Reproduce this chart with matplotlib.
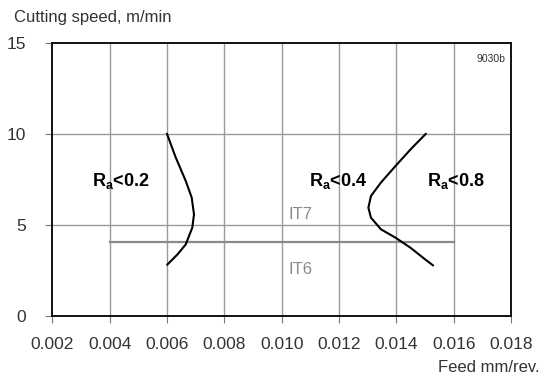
import matplotlib
matplotlib.use("Agg")
import matplotlib.pyplot as plt

plt.rcParams['font.family'] = ['Liberation Sans', 'DejaVu Sans']
plt.rcParams['mathtext.fontset'] = 'custom'
plt.rcParams['mathtext.rm'] = 'Liberation Sans'
plt.rcParams['mathtext.bf'] = 'Liberation Sans:bold'

# Ra < 0.2 boundary curve
feed_02 = [0.00600, 0.00630, 0.00665, 0.00686, 0.00694, 0.00688, 0.00665, 0.00636, 0.00601]
speed_02 = [10.0, 8.72, 7.43, 6.51, 5.59, 4.86, 3.94, 3.39, 2.84]

# Ra < 0.4 / 0.8 boundary curve
feed_04 = [0.01502, 0.01450, 0.01397, 0.01346, 0.01311, 0.01302, 0.01311,
           0.01346, 0.01397, 0.01449, 0.01501, 0.01527]
speed_04 = [10.0, 9.17, 8.25, 7.34, 6.60, 5.96, 5.41, 4.77, 4.31, 3.76, 3.11, 2.80]

# IT7 / IT6 separation line
it_feed = [0.004, 0.016]
it_speed = [4.09, 4.09]

x_ticks = [0.002, 0.004, 0.006, 0.008, 0.010, 0.012, 0.014, 0.016, 0.018]
y_ticks = [0, 5, 10, 15]

fig = plt.figure(figsize=(5.45, 3.78), dpi=100)
ax = fig.add_axes([0.096, 0.163, 0.842, 0.724])

ax.set_xlim(0.002, 0.018)
ax.set_ylim(0, 15)
ax.set_xticks(x_ticks)
ax.set_xticklabels(['%.3f' % t for t in x_ticks])
ax.set_yticks(y_ticks)

# grid
for t in x_ticks[1:-1]:
    ax.axvline(t, color='#9a9a9a', lw=1.0, zorder=1)
for t in [5, 10]:
    ax.axhline(t, color='#9a9a9a', lw=1.0, zorder=1)

ax.plot(it_feed, it_speed, color='#8a8a8a', lw=1.6, zorder=2)
ax.plot(feed_02, speed_02, color='black', lw=1.5, zorder=3)
ax.plot(feed_04, speed_04, color='black', lw=1.5, zorder=3)

for s in ax.spines.values():
    s.set_linewidth(1.4)
    s.set_color('#111111')

ax.tick_params(axis='both', direction='out', length=5, width=0.8,
               color='#777777', labelsize=12.5, labelcolor='#333333')
ax.tick_params(axis='x', pad=10)
ax.tick_params(axis='y', pad=14)

ax.text(0.00438, 7.43, r'$\mathbf{R_a}$<0.2', fontsize=13, fontweight='bold',
        ha='center', va='center')
ax.text(0.01196, 7.43, r'$\mathbf{R_a}$<0.4', fontsize=13, fontweight='bold',
        ha='center', va='center')
ax.text(0.01607, 7.43, r'$\mathbf{R_a}$<0.8', fontsize=13, fontweight='bold',
        ha='center', va='center')
ax.text(0.01025, 5.6, 'IT7', fontsize=12, color='#8a8a8a', ha='left', va='center')
ax.text(0.01025, 2.55, 'IT6', fontsize=12, color='#8a8a8a', ha='left', va='center')
ax.text(0.0178, 14.1, '9030b', fontsize=7.5, color='#333333', ha='right', va='center')

fig.text(0.025, 0.955, 'Cutting speed, m/min', fontsize=12, color='#333333',
         ha='left', va='center')
fig.text(0.99, 0.028, 'Feed mm/rev.', fontsize=12, color='#333333',
         ha='right', va='center')

fig.savefig('out.png', dpi=100)
